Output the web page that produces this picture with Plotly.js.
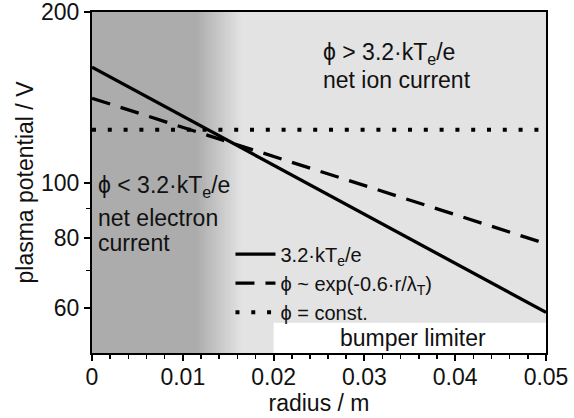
<!DOCTYPE html>
<html><head><meta charset="utf-8">
<script src="https://cdn.plot.ly/plotly-3.0.1.min.js"></script>
<style>html,body{margin:0;padding:0;background:#fff}#chart{width:574px;height:418px}</style>
</head><body><div id="chart"></div>
<script>
// data
const radius = [0, 0.05];
const phiTe = [160, 59];          // 3.2·kTe/e
const phiExp = [141, 78];         // phi ~ exp(-0.6 r/lambda_T)
const phiConst = [124, 124];      // phi = const.
const seriesNames = ['3.2·kT<sub>e</sub>/e', 'ϕ ~ exp(-0.6·r/λ<sub>T</sub>)', 'ϕ = const.'];
const xTickVals = [0, 0.01, 0.02, 0.03, 0.04, 0.05];
const xTickText = ['0', '0.01', '0.02', '0.03', '0.04', '0.05'];
const yTickVals = [60, 80, 100, 200];
const yTickText = ['60', '80', '100', '200'];
const yMinorVals = [70, 90];

const FONT = '"Liberation Sans", Arial, sans-serif';
const FS = 23;

// background regions (decoration)
const shapes = [];
const dark = 172, light = 227;
const g0 = 0.0115, g1 = 0.0165, steps = 50;
const dx = (g1 - g0) / steps;
shapes.push({type:'rect', layer:'below', xref:'x', yref:'paper', x0:0, x1:g0 + dx, y0:0, y1:1,
  fillcolor:`rgb(${dark},${dark},${dark})`, line:{width:0}});
for (let i = 0; i < steps; i++) {
  const a = g0 + dx * i;
  const t = (i + 0.5) / steps;
  const c = Math.round(dark + (light - dark) * t);
  shapes.push({type:'rect', layer:'below', xref:'x', yref:'paper', x0:a, x1:a + 2 * dx, y0:0, y1:1,
    fillcolor:`rgb(${c},${c},${c})`, line:{width:0}});
}
shapes.push({type:'rect', layer:'below', xref:'x', yref:'paper', x0:g1, x1:0.05, y0:0, y1:1,
  fillcolor:`rgb(${light},${light},${light})`, line:{width:0}});
shapes.push({type:'rect', layer:'below', xref:'x', yref:'paper', x0:0.02, x1:0.05, y0:0, y1:0.089,
  fillcolor:'#ffffff', line:{width:0}});

const traces = [
  {x: radius, y: phiTe, name: seriesNames[0], mode:'lines', line:{color:'#000', width:3.3}},
  {x: radius, y: phiExp, name: seriesNames[1], mode:'lines', line:{color:'#000', width:3.3, dash:'19px,11px'}},
  {x: radius, y: phiConst, name: seriesNames[2], mode:'lines', line:{color:'#000', width:4, dash:'4px,11.8px'}}
];

const ann = (text, x, y, xanchor) => ({text, x, y, xref:'x', yref:'paper', xanchor: xanchor || 'left', yanchor:'middle',
  align: xanchor === 'center' ? 'center' : 'left', showarrow:false, borderpad:0,
  font:{family:FONT, size:FS, color:'#111'}});

const layout = {
  width: 574, height: 418,
  margin: {l: 92, r: 28, t: 12, b: 65},
  paper_bgcolor: '#fff', plot_bgcolor: '#fff',
  font: {family: FONT, size: FS, color: '#111'},
  showlegend: true,
  legend: {x: 0.305, y: 0.347, xanchor:'left', yanchor:'top', bgcolor:'rgba(0,0,0,0)',
    font:{family:FONT, size:20, color:'#111'}, itemwidth:40},
  xaxis: {range:[0, 0.05], tickmode:'array', tickvals:xTickVals, ticktext:xTickText,
    ticks:'outside', ticklen:6, tickwidth:2, tickcolor:'#000', ticklabelstandoff:-4, ticklabeloverflow:'allow',
    minor:{dtick:0.002, tick0:0, ticks:'outside', ticklen:4, tickwidth:1.5, tickcolor:'#000', showgrid:false},
    showline:true, linecolor:'#000', linewidth:2, mirror:true, showgrid:false, zeroline:false,
    title:{text:'radius / m', font:{family:FONT, size:FS}, standoff:6},
    tickfont:{family:FONT, size:FS}},
  yaxis: {type:'log', range:[Math.log10(50), Math.log10(200) + 0.0006], tickmode:'array', tickvals:yTickVals, ticktext:yTickText,
    ticks:'outside', ticklen:6, tickwidth:2, tickcolor:'#000', ticklabeloverflow:'allow',
    minor:{tickmode:'array', tickvals:yMinorVals, ticks:'outside', ticklen:4, tickwidth:1.5, tickcolor:'#000', showgrid:false},
    showline:true, linecolor:'#000', linewidth:2, mirror:true, showgrid:false, zeroline:false,
    title:{text:'plasma potential / V', font:{family:FONT, size:FS}, standoff:1},
    tickfont:{family:FONT, size:FS}},
  shapes: shapes,
  annotations: [
    ann('ϕ &gt; 3.2·kT<sub>e</sub>/e', 0.0253, 0.878),
    ann('net ion current', 0.0253, 0.800),
    ann('ϕ &lt; 3.2·kT<sub>e</sub>/e', 0.0005, 0.488),
    ann('net electron', 0.0005, 0.395),
    ann('current', 0.0005, 0.322),
    ann('bumper limiter', 0.0354, 0.045, 'center')
  ]
};

Plotly.newPlot('chart', traces, layout, {displayModeBar:false, staticPlot:true});
</script></body></html>
